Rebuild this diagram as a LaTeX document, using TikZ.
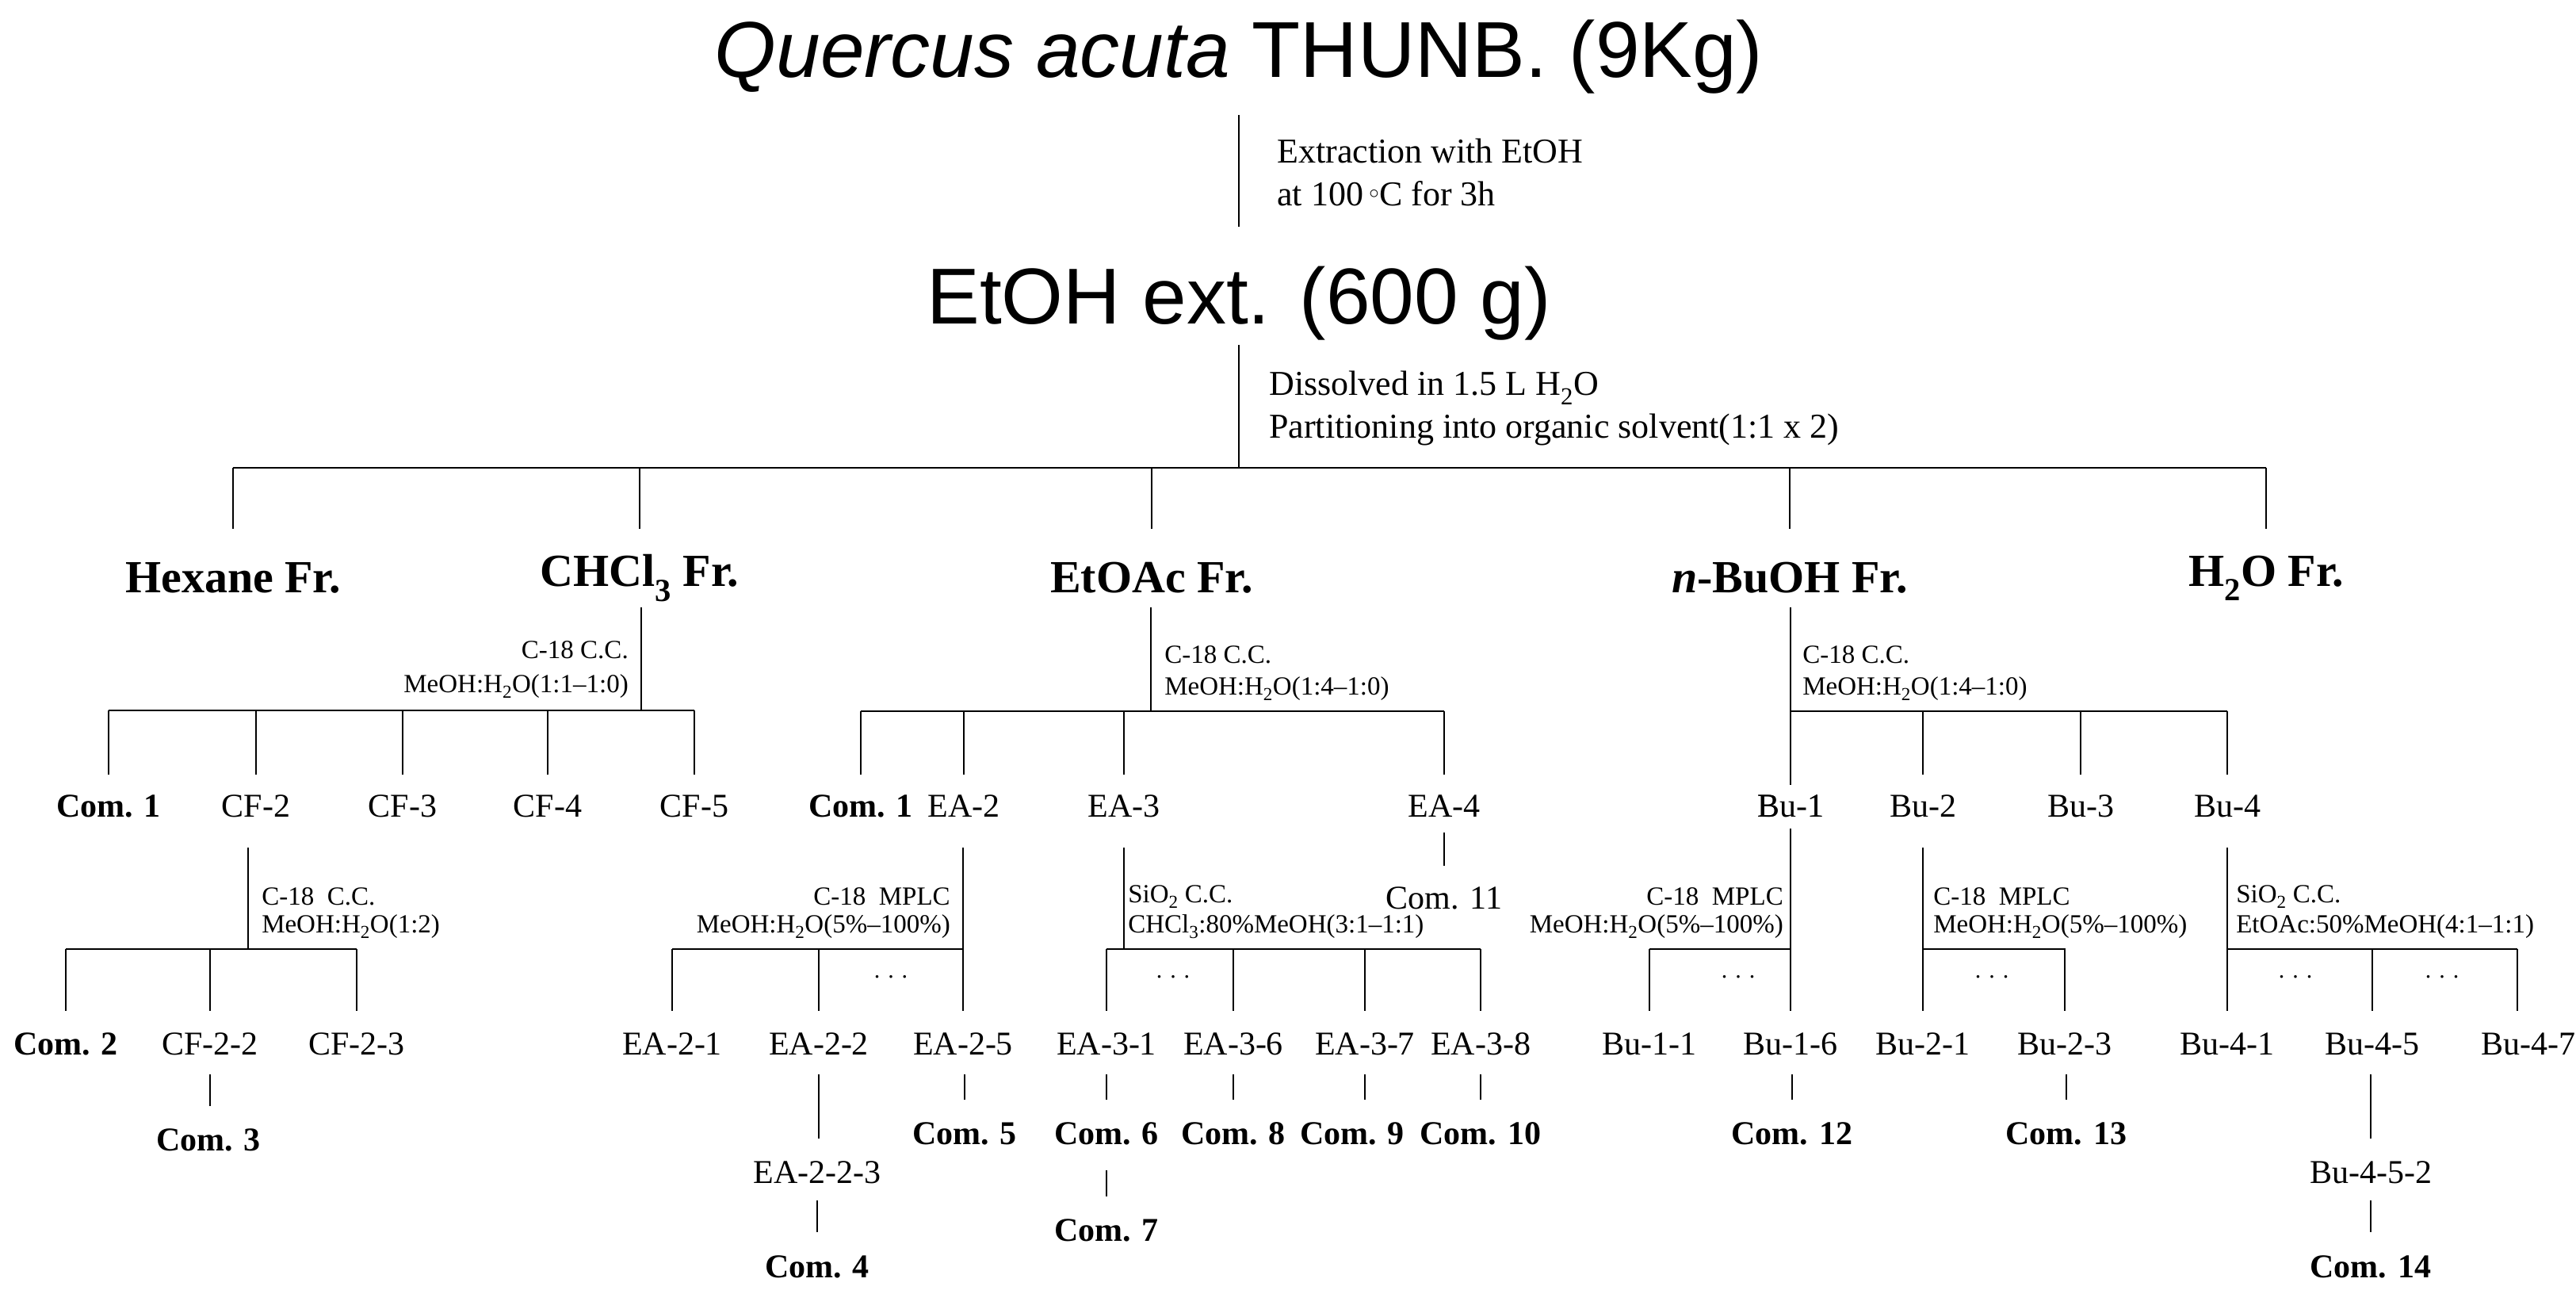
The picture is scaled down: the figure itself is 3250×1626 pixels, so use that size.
\documentclass[tikz,border=0pt]{standalone}
\usepackage{fontspec}
\setmainfont{Liberation Serif}
\newfontfamily\titlefont{Liberation Sans}
\begin{document}
\begin{tikzpicture}[x=1pt,y=-1pt,line width=2.5pt,
  big/.style={font=\titlefont\fontsize{100}{110}\selectfont,inner sep=0},
  frc/.style={font=\fontsize{58}{64}\selectfont\bfseries,inner sep=0},
  itm/.style={font=\fontsize{42}{48}\selectfont,inner sep=0},
  com/.style={font=\fontsize{42}{48}\selectfont\bfseries,inner sep=0},
  lab/.style={font=\fontsize{44}{52}\selectfont,inner sep=0,anchor=west},
  mthL/.style={font=\fontsize{33}{38}\selectfont,inner sep=0,anchor=west},
  mthR/.style={font=\fontsize{33}{38}\selectfont,inner sep=0,anchor=east},
  dts/.style={font=\fontsize{30}{30}\selectfont,inner sep=0}]
\useasboundingbox (0,0) rectangle (3250,1626);
% top
\node[big] (title) at (1563,72) {\textit{Quercus acuta} THUNB. (9Kg)};
\draw (1563,145) -- (1563,286);
\node[lab] (l1) at (1610,190) {Extraction with EtOH};
\node[lab] (l2) at (1610,244) {at 100\,$^\circ$C for 3h};
\node[big] (ext) at (1563,383) {EtOH ext. (600 g)};
\draw (1563,435) -- (1563,590);
\node[lab] (l3) at (1600,489) {Dissolved in 1.5 L H\textsubscript{2}O};
\node[lab] (l4) at (1600,542) {Partitioning into organic solvent(1:1 x 2)};
\draw (294,590) -- (2859,590);
\foreach \x in {294,807,1453,2258,2859} \draw (\x,590) -- (\x,667);
\node[frc] (hex) at (294,729) {Hexane Fr.};
\node[frc] (chl) at (807,729) {CHCl\textsubscript{3} Fr.};
\node[frc] (eta) at (1453,729) {EtOAc Fr.};
\node[frc] (bu) at (2258,729) {\textit{n}-BuOH Fr.};
\node[frc] (wat) at (2859,729) {H\textsubscript{2}O Fr.};
% CHCl3 branch
\draw (809,766) -- (809,896);
\node[mthR] at (794,820) {C-18 C.C.};
\node[mthR] at (794,866) {MeOH:H\textsubscript{2}O(1:1–1:0)};
\draw (137,896) -- (876,896);
\foreach \x in {137,323,508,691,876} \draw (\x,896) -- (\x,977);
\node[com] (c1) at (137,1017) {Com. 1};
\node[itm] (cf2) at (323,1017) {CF-2};
\node[itm] (cf3) at (508,1017) {CF-3};
\node[itm] (cf4) at (691,1017) {CF-4};
\node[itm] (cf5) at (876,1017) {CF-5};
\draw (313,1069) -- (313,1197);
\node[mthL] at (329,1131) {C-18 \ C.C.};
\node[mthL] at (329,1169) {MeOH:H\textsubscript{2}O(1:2)};
\draw (83,1197) -- (450,1197);
\foreach \x in {83,265,450} \draw (\x,1197) -- (\x,1275);
\node[com] (c2) at (83,1317) {Com. 2};
\node[itm] (cf22) at (265,1317) {CF-2-2};
\node[itm] (cf23) at (450,1317) {CF-2-3};
\draw (265,1355) -- (265,1395);
\node[com] (c3) at (263,1438) {Com. 3};
% EtOAc branch
\draw (1452,766) -- (1452,897);
\node[mthL] at (1468,826) {C-18 C.C.};
\node[mthL] at (1468,869) {MeOH:H\textsubscript{2}O(1:4–1:0)};
\draw (1086,897) -- (1822,897);
\foreach \x in {1086,1216,1418,1822} \draw (\x,897) -- (\x,977);
\node[com] (c1b) at (1086,1017) {Com. 1};
\node[itm] (ea2) at (1216,1017) {EA-2};
\node[itm] (ea3) at (1418,1017) {EA-3};
\node[itm] (ea4) at (1822,1017) {EA-4};
\draw (1822,1050) -- (1822,1092);
\node[itm] (c11) at (1822,1133) {Com. 11};
% EA-2
\draw (1215,1069) -- (1215,1275);
\node[mthR] at (1200,1131) {C-18 \ MPLC};
\node[mthR] at (1200,1169) {MeOH:H\textsubscript{2}O(5\%–100\%)};
\draw (848,1197) -- (1215,1197);
\foreach \x in {848,1033} \draw (\x,1197) -- (\x,1275);
\node[dts] at (1124,1232) {. . .};
\node[itm] (ea21) at (848,1317) {EA-2-1};
\node[itm] (ea22) at (1033,1317) {EA-2-2};
\node[itm] (ea25) at (1215,1317) {EA-2-5};
\draw (1033,1355) -- (1033,1436);
\node[itm] (ea223) at (1031,1479) {EA-2-2-3};
\draw (1031,1514) -- (1031,1554);
\node[com] (c4) at (1031,1598) {Com. 4};
\draw (1217,1355) -- (1217,1387);
\node[com] (c5) at (1217,1430) {Com. 5};
% EA-3
\draw (1418,1069) -- (1418,1197);
\node[mthL] at (1422,1131) {SiO\textsubscript{2} C.C.};
\node[mthL] at (1422,1169) {CHCl\textsubscript{3}:80\%MeOH(3:1–1:1)};
\draw (1396,1197) -- (1868,1197);
\foreach \x in {1396,1556,1722,1868} {\draw (\x,1197) -- (\x,1275); \draw (\x,1355) -- (\x,1387);}
\node[dts] at (1480,1232) {. . .};
\node[itm] (ea31) at (1396,1317) {EA-3-1};
\node[itm] (ea36) at (1556,1317) {EA-3-6};
\node[itm] (ea37) at (1722,1317) {EA-3-7};
\node[itm] (ea38) at (1868,1317) {EA-3-8};
\node[com] (c6) at (1396,1430) {Com. 6};
\node[com] (c8) at (1556,1430) {Com. 8};
\node[com] (c9) at (1706,1430) {Com. 9};
\node[com] (c10) at (1868,1430) {Com. 10};
\draw (1396,1476) -- (1396,1509);
\node[com] (c7) at (1396,1552) {Com. 7};
% BuOH branch
\draw (2259,766) -- (2259,1275);
\node[mthL] at (2273,826) {C-18 C.C.};
\node[mthL] at (2273,869) {MeOH:H\textsubscript{2}O(1:4–1:0)};
\draw (2259,897) -- (2810,897);
\foreach \x in {2426,2625,2810} \draw (\x,897) -- (\x,977);
\node[itm] (b1) at (2259,1017) {Bu-1};
\node[itm] (b2) at (2426,1017) {Bu-2};
\node[itm] (b3) at (2625,1017) {Bu-3};
\node[itm] (b4) at (2810,1017) {Bu-4};
\fill[white] (2240,990) rectangle (2280,1045);
\node[itm] at (2259,1017) {Bu-1};
% Bu-1
\node[mthR] at (2251,1131) {C-18 \ MPLC};
\node[mthR] at (2251,1169) {MeOH:H\textsubscript{2}O(5\%–100\%)};
\draw (2081,1197) -- (2259,1197);
\draw (2081,1197) -- (2081,1275);
\node[dts] at (2193,1232) {. . .};
\node[itm] (b11) at (2081,1317) {Bu-1-1};
\node[itm] (b16) at (2259,1317) {Bu-1-6};
\draw (2261,1355) -- (2261,1387);
\node[com] (c12) at (2261,1430) {Com. 12};
% Bu-2
\draw (2426,1069) -- (2426,1275);
\node[mthL] at (2438,1131) {C-18 \ MPLC};
\node[mthL] at (2438,1169) {MeOH:H\textsubscript{2}O(5\%–100\%)};
\draw (2426,1197) -- (2605,1197) -- (2605,1275);
\node[dts] at (2513,1232) {. . .};
\node[itm] (b21) at (2426,1317) {Bu-2-1};
\node[itm] (b23) at (2605,1317) {Bu-2-3};
\draw (2607,1355) -- (2607,1387);
\node[com] (c13) at (2607,1430) {Com. 13};
% Bu-4
\draw (2810,1069) -- (2810,1275);
\node[mthL] at (2820,1131) {SiO\textsubscript{2} C.C.};
\node[mthL] at (2820,1169) {EtOAc:50\%MeOH(4:1–1:1)};
\draw (2810,1197) -- (3176,1197);
\foreach \x in {2993,3176} \draw (\x,1197) -- (\x,1275);
\node[dts] at (2896,1232) {. . .};
\node[dts] at (3081,1232) {. . .};
\node[itm] (b41) at (2810,1317) {Bu-4-1};
\node[itm] (b45) at (2993,1317) {Bu-4-5};
\node[itm] (b47) at (3190,1317) {Bu-4-7};
\draw (2991,1355) -- (2991,1436);
\node[itm] (b452) at (2991,1479) {Bu-4-5-2};
\draw (2991,1514) -- (2991,1554);
\node[com] (c14) at (2991,1598) {Com. 14};
\end{tikzpicture}
\end{document}
